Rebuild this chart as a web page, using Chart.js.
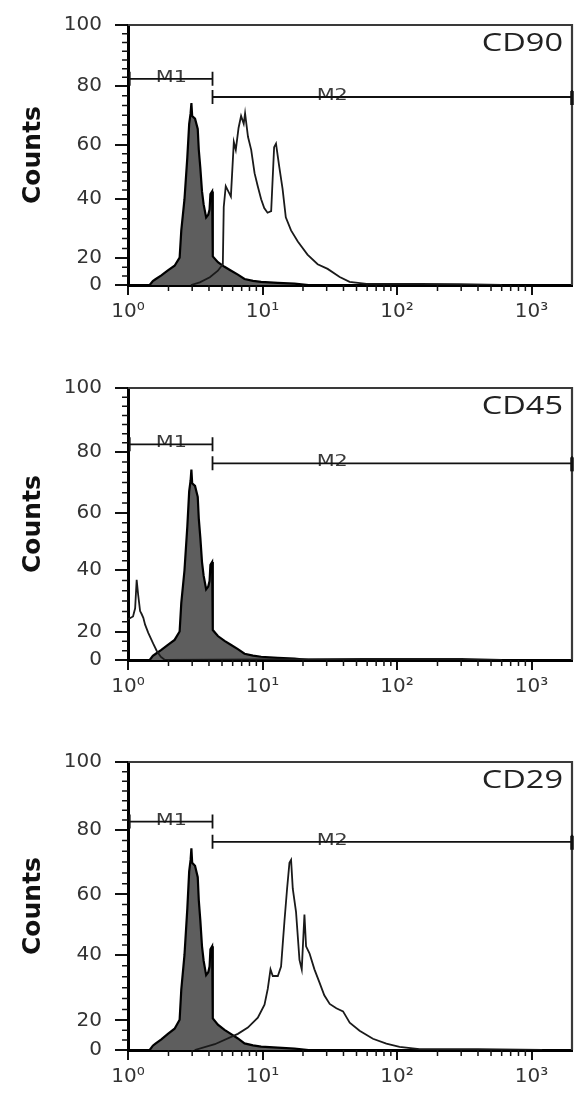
<!DOCTYPE html>
<html>
<head>
<meta charset="utf-8">
<script src="https://cdn.jsdelivr.net/npm/chart.js@4"></script>
<style>
  body { margin: 0; background: #fff; width: 579px; height: 1100px; position: relative; overflow: hidden; }
  .panel { position: absolute; left: 0; width: 579px; }
</style>
</head>
<body>
<div class="panel" style="top:0px;height:330px"><canvas id="cd90"></canvas></div>
<div class="panel" style="top:363px;height:342px"><canvas id="cd45"></canvas></div>
<div class="panel" style="top:737px;height:358px"><canvas id="cd29"></canvas></div>
<script>
// axis ticks
let xTickValues = [1, 10, 100, 1000];
let xTickLabels = ['10⁰', '10¹', '10²', '10³'];
let yTickValues = [0, 10.3, 33, 54, 76.5, 100];
let yTickLabels = ['0', '20', '40', '60', '80', '100'];

// isotype control (filled grey histogram), same in every panel
let isoX = [1.45, 1.53, 1.6, 1.77, 1.98, 2.22, 2.42, 2.49, 2.63, 2.76, 2.85, 2.92, 2.96, 3.0, 3.15, 3.3, 3.36, 3.45, 3.55, 3.65, 3.81, 3.95, 4.04, 4.1, 4.22, 4.27, 4.66, 5.22, 5.85, 6.56, 7.35, 8.5, 9.77, 13, 17.3, 22];
let isoY = [0, 1.5, 2.2, 3.7, 5.6, 7.4, 10.5, 21, 33, 49, 62, 66, 70, 65, 64, 60, 52, 45, 36, 31, 26, 27, 29, 35, 36, 11, 8.8, 7, 5.5, 4, 2.3, 1.6, 1.2, 0.8, 0.5, 0];

// stained samples (open histograms)
let cd90X = [2.94, 3.42, 4.06, 4.66, 5.07, 5.15, 5.33, 5.82, 6.12, 6.33, 6.64, 6.93, 7.25, 7.42, 7.8, 8.24, 8.73, 9.22, 9.77, 10.3, 10.9, 11.6, 12.2, 12.6, 13.3, 14.1, 14.9, 16.3, 18.3, 21.6, 25.7, 30.5, 37.5, 44.4, 59.3, 147, 290, 600];
let cd90Y = [0, 1, 3, 5.5, 8, 30, 38, 34, 55, 52, 60.5, 65, 62, 66, 57, 52, 43, 38, 33, 29.6, 27.8, 28.4, 53, 54.4, 45.7, 37, 26, 21, 16.7, 11.7, 8, 6.2, 3.1, 1.2, 0.4, 0.4, 0.3, 0];

let cd45X = [1.0, 1.09, 1.13, 1.16, 1.19, 1.23, 1.26, 1.3, 1.34, 1.415, 1.54, 1.63, 1.75, 1.88, 60, 300, 600];
let cd45Y = [15, 16, 19, 29.5, 24, 18, 17, 15.5, 13, 10, 6, 3.5, 1.2, 0, 0.4, 0.4, 0];

let cd29X = [3.13, 4.42, 6.56, 7.78, 9.23, 10.35, 10.95, 11.47, 11.92, 13.0, 13.74, 14.15, 14.56, 15.23, 15.86, 16.31, 16.79, 17.75, 18.83, 19.58, 20.5, 21.08, 22.35, 24.33, 26.5, 28.8, 31.6, 35.4, 39.7, 44.5, 52.7, 66.2, 83.3, 104.5, 131, 147, 400, 1200];
let cd29Y = [0, 2, 5.6, 7.8, 11.2, 15.7, 21.3, 28, 25.7, 25.7, 29, 37, 44.7, 56, 65, 66, 56, 48, 31.3, 28, 47, 36, 33.6, 28, 23.5, 19, 16, 14.5, 13.4, 9.5, 6.7, 3.9, 2.2, 1.1, 0.6, 0.3, 0.3, 0];

// gate markers
let m1Range = [1.03, 4.25];
let m2Range = [4.25, 2000];
let m1Level = 79.3;
let m2Level = 72.3;
let m1LabelAt = 2.1;
let m2LabelAt = 33;

// draws the frame, minor ticks, M1/M2 gates and the marker name
let flowPlugin = {
  id: 'flow',
  afterDraw(chart) {
    let ctx = chart.ctx;
    let a = chart.chartArea;
    let xs = chart.scales.x;
    let ys = chart.scales.y;
    ctx.save();

    // top and right frame
    ctx.strokeStyle = '#3a3a3a';
    ctx.lineWidth = 2.2;
    ctx.beginPath();
    ctx.moveTo(a.left, a.top);
    ctx.lineTo(a.right, a.top);
    ctx.lineTo(a.right, a.bottom);
    ctx.stroke();

    // minor ticks on x
    ctx.strokeStyle = '#111';
    ctx.lineWidth = 1.5;
    ctx.beginPath();
    for (let d of xTickValues) {
      for (let m = 2; m <= 9; m++) {
        let v = m * d;
        if (v >= 2000) continue;
        let px = xs.getPixelForValue(v);
        ctx.moveTo(px, a.bottom);
        ctx.lineTo(px, a.bottom + 6);
      }
    }
    // minor ticks on y
    for (let i = 0; i < yTickValues.length - 1; i++) {
      let v1 = yTickValues[i], v2 = yTickValues[i + 1];
      let n = Math.round((v2 - v1) / 3.6);
      for (let k = 1; k < n; k++) {
        let py = ys.getPixelForValue(v1 + (v2 - v1) * k / n);
        ctx.moveTo(a.left, py);
        ctx.lineTo(a.left - 6, py);
      }
    }
    ctx.stroke();

    // gates
    function gate(range, level, label, labelAt) {
      let x1 = xs.getPixelForValue(range[0]);
      let x2 = xs.getPixelForValue(range[1]);
      let py = ys.getPixelForValue(level);
      ctx.save();
      ctx.fillStyle = '#3a3a3a';
      ctx.font = '16px "DejaVu Sans"';
      ctx.textAlign = 'center';
      ctx.translate(xs.getPixelForValue(labelAt), py + 3);
      ctx.scale(1.3, 1);
      ctx.fillText(label, 0, 0);
      ctx.restore();
      ctx.strokeStyle = '#111';
      ctx.lineWidth = 1.8;
      ctx.beginPath();
      ctx.moveTo(x1, py);
      ctx.lineTo(x2, py);
      ctx.moveTo(x1, py - 7);
      ctx.lineTo(x1, py + 7);
      ctx.moveTo(x2, py - 7);
      ctx.lineTo(x2, py + 7);
      ctx.stroke();
    }
    gate(m1Range, m1Level, 'M1', m1LabelAt);
    gate(m2Range, m2Level, 'M2', m2LabelAt);

    // thick cap at the right end of M2
    ctx.lineWidth = 3.5;
    ctx.beginPath();
    let capY = ys.getPixelForValue(m2Level);
    ctx.moveTo(a.right, capY - 6);
    ctx.lineTo(a.right, capY + 8);
    ctx.stroke();

    // marker name
    ctx.fillStyle = '#222';
    ctx.font = '25px "Open Sans"';
    ctx.textAlign = 'right';
    ctx.translate(a.right - 9, a.top + 26);
    ctx.scale(1.3, 1);
    ctx.fillText(chart.options.plugins.flow.name, 0, 0);

    ctx.restore();
  }
};

function makeChart(id, name, openX, openY) {
  let openPts = openX.map((v, i) => ({ x: v, y: openY[i] }));
  let isoPts = isoX.map((v, i) => ({ x: v, y: isoY[i] }));

  let options = {
    type: 'line',
    data: {
      datasets: [{
        data: openPts,
        borderColor: '#1a1a1a',
        borderWidth: 1.8,
        fill: false,
        pointRadius: 0,
        tension: 0
      }, {
        data: isoPts,
        borderColor: '#000',
        borderWidth: 2.2,
        backgroundColor: '#5e5e5e',
        fill: 'origin',
        pointRadius: 0,
        tension: 0
      }]
    },
    options: {
      responsive: true,
      maintainAspectRatio: false,
      animation: false,
      layout: { padding: { top: 15, right: 7, left: 0, bottom: 0 } },
      plugins: {
        legend: { display: false },
        tooltip: { enabled: false },
        flow: { name: name }
      },
      scales: {
        x: {
          type: 'logarithmic',
          min: 1,
          max: 2000,
          afterBuildTicks: s => { s.ticks = xTickValues.map(v => ({ value: v })); },
          afterFit: s => { s.height = 45; },
          ticks: {
            callback: (v, i) => xTickLabels[i],
            font: { family: 'DejaVu Sans', size: 20 },
            color: '#333',
            padding: 5,
            maxRotation: 0,
            autoSkip: false
          },
          grid: { drawOnChartArea: false, tickLength: 10, color: '#111', lineWidth: 2 },
          border: { color: '#000', width: 3 }
        },
        y: {
          min: 0,
          max: 100,
          afterBuildTicks: s => { s.ticks = yTickValues.map(v => ({ value: v })); },
          afterFit: s => { s.width = 128; },
          ticks: {
            callback: (v, i) => yTickLabels[i],
            font: { family: 'DejaVu Sans', size: 20 },
            color: '#333',
            padding: 13,
            autoSkip: false
          },
          grid: { drawOnChartArea: false, tickLength: 13, color: '#111', lineWidth: 2 },
          border: { color: '#000', width: 3 },
          title: {
            display: true,
            text: 'Counts',
            font: { family: 'DejaVu Sans', size: 25, weight: 'bold' },
            color: '#111',
            padding: { top: 18, bottom: 0 }
          }
        }
      }
    },
    plugins: [flowPlugin]
  };

  return new Chart(document.getElementById(id), options);
}

makeChart('cd90', 'CD90', cd90X, cd90Y);
makeChart('cd45', 'CD45', cd45X, cd45Y);
makeChart('cd29', 'CD29', cd29X, cd29Y);
</script>
</body>
</html>
